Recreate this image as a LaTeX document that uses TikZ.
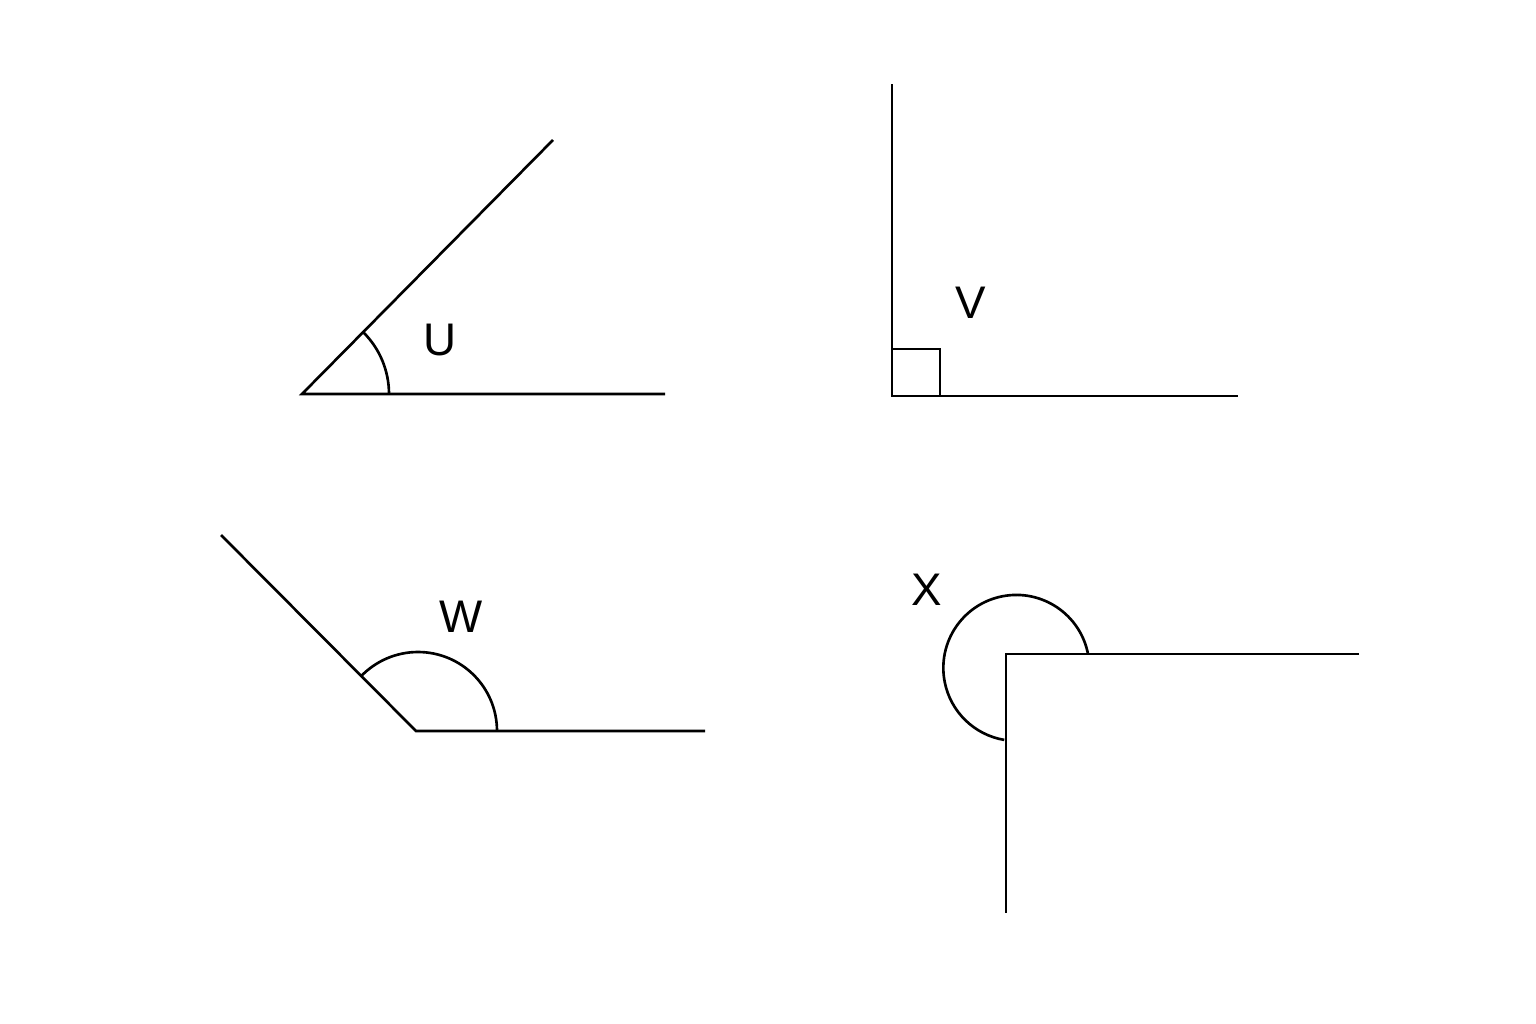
\documentclass[tikz,border=0pt]{standalone}
\usepackage{fontspec}
\setmainfont{Liberation Sans}
\usetikzlibrary{calc}
\begin{document}
\begin{tikzpicture}[x=0.01cm,y=-0.01cm,line width=0.75pt,
  lbl/.style={font=\fontsize{13}{15}\selectfont}]
              \useasboundingbox (0,0) rectangle (1536,1024);
              % angle U
              \coordinate (u) at (302,394);
              \coordinate (u1) at (553,140);
              \coordinate (u2) at (665,394);
              \draw (u1)--(u)--(u2);
              \draw ($(u)+(87,0)$) arc[start angle=0,end angle=-45,radius=87];
              \node[lbl](U)at(440,340){U};
              % angle V
              \coordinate (v) at (892,396);
              \coordinate (v1) at (892,84);
              \coordinate (v2) at (1238,396);
              \draw (v1)--(v)--(v2);
              \draw ($(v)+(0,-47)$) -| ($(v)+(48,0)$);
              \node[lbl](V)at(971,303){V};
              % angle W
              \coordinate (w) at (416,731);
              \coordinate (w1) at (221,535);
              \coordinate (w2) at (705,731);
              \draw (w1)--(w)--(w2);
              \draw ($(w)+(81,0)$) arc[start angle=0,end angle=-136,radius=79];
              \node[lbl](W)at(461,617){W};
              % angle X
              \coordinate (x) at (1006,654);
              \coordinate (x1) at (1359,654);
              \coordinate (x2) at (1006,913);
              \draw (x1)--(x)--(x2);
              \draw ($(x)+(82,0)$) arc[start angle=-11,end angle=-260.5,radius=73];
              \node[lbl](X)at(927,590){X};
            \end{tikzpicture}
\end{document}
